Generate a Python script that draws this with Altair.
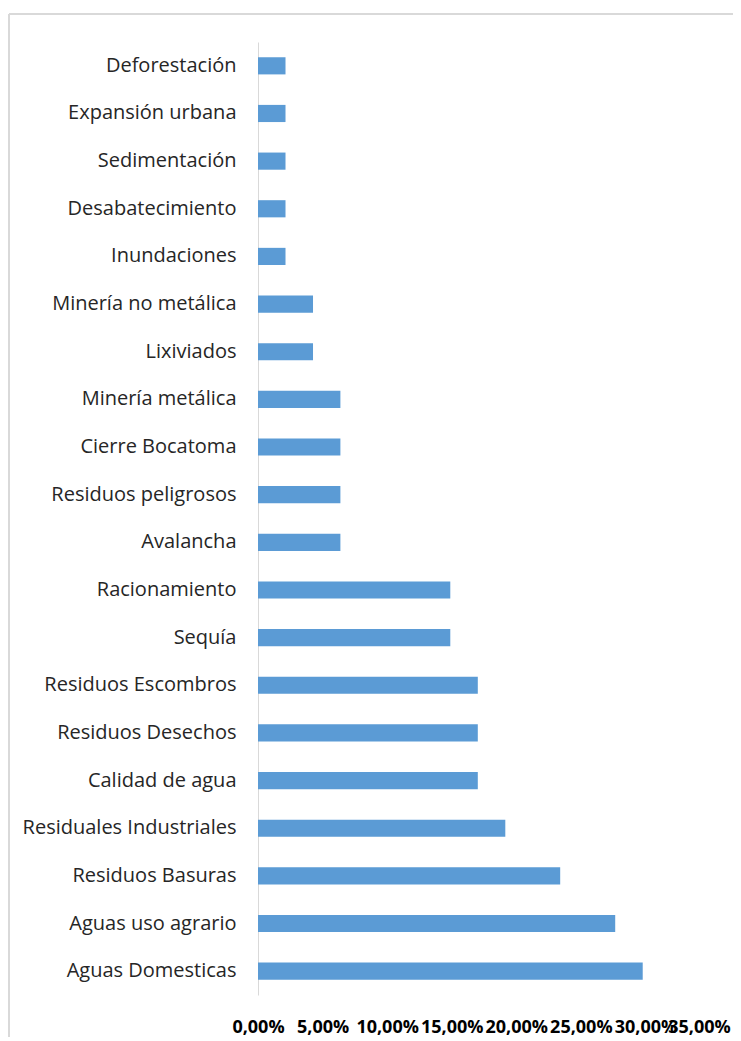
import altair as alt
import pandas as pd

categories = [
    "Deforestación", "Expansión urbana", "Sedimentación", "Desabatecimiento",
    "Inundaciones", "Minería no metálica", "Lixiviados", "Minería metálica",
    "Cierre Bocatoma", "Residuos peligrosos", "Avalancha", "Racionamiento",
    "Sequía", "Residuos Escombros", "Residuos Desechos", "Calidad de agua",
    "Residuales Industriales", "Residuos Basuras", "Aguas uso agrario",
    "Aguas Domesticas",
]
values = [
    2.13, 2.13, 2.13, 2.13,
    2.13, 4.26, 4.26, 6.38,
    6.38, 6.38, 6.38, 14.89,
    14.89, 17.02, 17.02, 17.02,
    19.15, 23.40, 27.66,
    29.79,
]
x_ticks = [0, 5, 10, 15, 20, 25, 30, 35]

df = pd.DataFrame({"categoria": categories, "valor": values})

FONT = "Open Sans"

bars = alt.Chart(df).mark_bar(color="#5B9BD5").encode(
    y=alt.Y(
        "categoria:N",
        sort=categories,
        scale=alt.Scale(paddingInner=0.64, paddingOuter=0.32),
        axis=alt.Axis(
            title=None, ticks=False, domain=True, domainColor="#d9d9d9",
            domainWidth=1, labelPadding=22, labelFontSize=20, labelFont=FONT,
            labelColor="#262626", labelLimit=400,
        ),
    ),
    x=alt.X(
        "valor:Q",
        scale=alt.Scale(domain=[0, 35], nice=False),
        axis=alt.Axis(
            title=None, ticks=False, domain=False, grid=False,
            values=x_ticks, labelOverlap=False, labelFlush=False,
            labelExpr="replace(format(datum.value, '.2f'), '.', ',') + '%'",
            labelFontWeight="bold", labelFontSize=18, labelFont=FONT,
            labelColor="#000000", labelPadding=23,
            labelOffset=alt.condition("datum.value == 35", alt.value(-11), alt.value(0)),
        ),
    ),
)

frame_data = alt.Data(values=[{"a": 1}])
frame_left = alt.Chart(frame_data).mark_rule(color="#d9d9d9", strokeWidth=2).encode(
    x=alt.value(-249), y=alt.value(-28), y2=alt.value(1010)
)
frame_top = alt.Chart(frame_data).mark_rule(color="#d9d9d9", strokeWidth=2).encode(
    x=alt.value(-249), x2=alt.value(600), y=alt.value(-28)
)

chart = alt.layer(frame_left, frame_top, bars).properties(
    width=452, height=953,
    autosize=alt.AutoSizeParams(type="none"),
    padding={"left": 250, "top": 34, "right": 23, "bottom": 42},
).configure(background="white").configure_view(strokeWidth=0, stroke="transparent")

chart.save("out.html", embed_options={"renderer": "svg", "actions": False})
